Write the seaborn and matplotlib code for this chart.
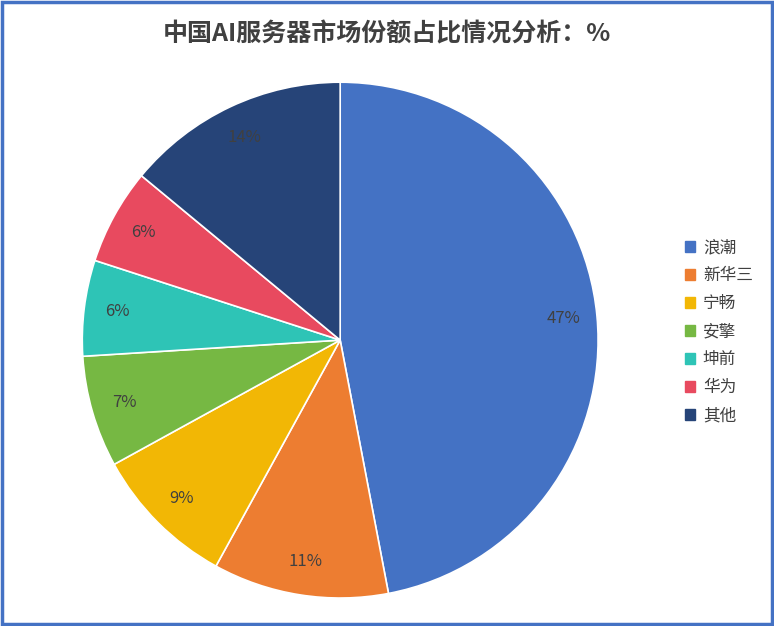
import matplotlib
matplotlib.use("Agg")
import matplotlib.pyplot as plt
import seaborn as sns
import numpy as np
from matplotlib.patches import Rectangle

sns.set_theme(style="white")
plt.rcParams['font.family'] = ['Noto Sans CJK SC', 'DejaVu Sans']

labels = ["浪潮", "新华三", "宁畅", "安擎", "坤前", "华为", "其他"]
values = [47, 11, 9, 7, 6, 6, 14]
colors = ["#4472C4", "#ED7D31", "#F2B705", "#76B843", "#2EC4B6", "#E84A5F", "#264478"]

fig = plt.figure(figsize=(7.74, 6.26), dpi=100)
ax = fig.add_axes([0.106, 0.0447, 0.667, 0.824])
wedges, texts = ax.pie(values, colors=colors, startangle=90, counterclock=False,
                       wedgeprops=dict(edgecolor="white", linewidth=1.2))
for w, v in zip(wedges, values):
    ang = np.deg2rad((w.theta1 + w.theta2) / 2)
    ax.text(0.87 * np.cos(ang), 0.87 * np.sin(ang), f"{v}%", ha="center", va="center",
            fontsize=12, color="#404040")
ax.set_xlim(-1, 1)
ax.set_ylim(-1, 1)
ax.set_aspect("equal")

handles = [Rectangle((0, 0), 1, 1, color=c) for c in colors]
fig.legend(handles, labels, loc="center left", bbox_to_anchor=(0.865, 0.47), frameon=False,
           fontsize=12, handlelength=0.6, handleheight=0.6, labelspacing=0.66, handletextpad=0.5,
           labelcolor="#404040")
fig.text(0.5, 0.945, "中国AI服务器市场份额占比情况分析：%", ha="center", va="center",
         fontsize=18, fontweight="bold", color="#404040")
fig.add_artist(Rectangle((0.002, 0.003), 0.996, 0.994, transform=fig.transFigure, fill=False,
                         edgecolor="#4472C4", linewidth=2.5))
fig.savefig("out.png", dpi=100)
